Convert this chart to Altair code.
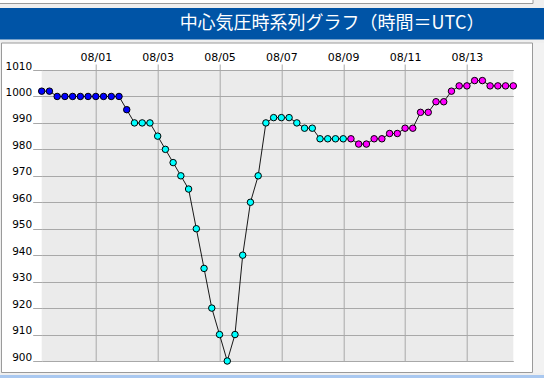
import altair as alt
import pandas as pd

# ---- data (6-hourly, UTC) ----
start_time = "2023-07-30 06:00"
n_obs = 62
pressure = [1002, 1002, 1000, 1000, 1000, 1000, 1000, 1000, 1000, 1000, 1000, 995,
            990, 990, 990, 985, 980, 975, 970, 965, 950, 935, 920, 910, 900, 910,
            940, 960, 970, 990, 992, 992, 992, 990, 988, 988, 984, 984, 984, 984,
            984, 982, 982, 984, 984, 986, 986, 988, 988, 994, 994, 998, 998, 1002,
            1004, 1004, 1006, 1006, 1004, 1004, 1004, 1004]
stage = ["B"] * 12 + ["C"] * 28 + ["M"] * 22
stage_domain = ["B", "C", "M"]
stage_colors = ["#0000FF", "#00FFFF", "#FF00FF"]
y_ticks = [900, 910, 920, 930, 940, 950, 960, 970, 980, 990, 1000, 1010]
x_tick_days = [1, 3, 5, 7, 9, 11, 13]
title_text = "中心気圧時系列グラフ（時間＝UTC）"

times = pd.date_range(start_time, periods=n_obs, freq="6h", tz="UTC")
df = pd.DataFrame({
    "time": [t.strftime("%Y-%m-%dT%H:%M:%SZ") for t in times],
    "pressure": pressure,
    "stage": stage,
})

# ---- geometry (page pixels) ----
PL, PT = 41.7, 70.0
W, H = 471.6, 291.0
PAGE_W, PAGE_H = 544, 378


def rx(v):
    return alt.value(v - PL)


def ry(v):
    return alt.value(v - PT)


dummy = pd.DataFrame({"a": [0]})


def rect(x1, x2, y1, y2, fill, stroke=None, sw=1):
    kw = dict(fill=fill)
    if stroke is not None:
        kw.update(stroke=stroke, strokeWidth=sw)
    return alt.Chart(dummy).mark_rect(**kw).encode(
        x=rx(x1), x2=rx(x2), y=ry(y1), y2=ry(y2))


GRAY = "#A8A8A8"
deco = [
    rect(0, PAGE_W, 0, 43, "#EFEFEF"),
    rect(-5, 533, -5, 3.5, "#FFFFFF", "#9A9A9A"),
    rect(0, PAGE_W, 8, 39.5, "#0054A6"),
    rect(0, 1.5, 43, PAGE_H, "#EFEFEF"),
    rect(532.5, PAGE_W, 43, PAGE_H, "#F2F2F2"),
    rect(0, PAGE_W, 372.5, PAGE_H, "#EFEFEF"),
    rect(0, PAGE_W, 375, PAGE_H, "#A9C8F0"),
    rect(1.5, 532.5, 43, 372.5, "#FFFFFF00", "#9A9A9A"),
]

title = alt.Chart(dummy).mark_text(
    text=title_text, font="Noto Sans CJK JP", fontSize=18, color="white",
    align="center", baseline="middle",
).encode(x=rx(332), y=ry(24))

x_enc = alt.X(
    "time:T",
    scale=alt.Scale(type="utc", nice=False, padding=0),
    axis=alt.Axis(
        orient="top", format="%m/%d", title=None,
        values=[alt.DateTime(year=2023, month=8, date=d, utc=True) for d in x_tick_days],
        grid=True, gridColor=GRAY, gridWidth=1, gridOpacity=1,
        tickColor=GRAY, tickSize=6, tickWidth=1, domain=False,
        labelFont="DejaVu Sans", labelFontSize=11, labelColor="black",
        labelPadding=2, labelFlush=False, labelOverlap=False,
    ),
)
y_enc = alt.Y(
    "pressure:Q",
    scale=alt.Scale(domain=[900, 1010], nice=False, zero=False),
    axis=alt.Axis(
        orient="left", title=None, values=y_ticks, format="d",
        grid=True, gridColor=GRAY, gridWidth=1, gridOpacity=1,
        tickColor=GRAY, tickSize=9, tickWidth=1, domain=False,
        labelFont="DejaVu Sans", labelFontSize=10.5, labelColor="black",
        labelPadding=1, labelBaseline="alphabetic", labelOffset=-1,
        labelFlush=False, labelOverlap=False,
    ),
)

base = alt.Chart(df)
line = base.mark_line(color="black", strokeWidth=0.9).encode(x=x_enc, y=y_enc)
points = base.mark_point(
    shape="circle", filled=True, size=42, stroke="black", strokeWidth=1, opacity=1
).encode(
    x=x_enc, y=y_enc,
    fill=alt.Fill("stage:N", scale=alt.Scale(domain=stage_domain, range=stage_colors),
                  legend=None),
)

chart = alt.layer(*deco, title, line, points).properties(
    width=W, height=H,
    autosize=alt.AutoSizeParams(type="none"),
    padding={"left": PL, "top": PT, "right": PAGE_W - PL - W, "bottom": PAGE_H - PT - H},
    background="white",
).configure_view(fill="#EBEBEB", stroke=None)

chart.save("out.html", embed_options={"renderer": "svg", "actions": False})
